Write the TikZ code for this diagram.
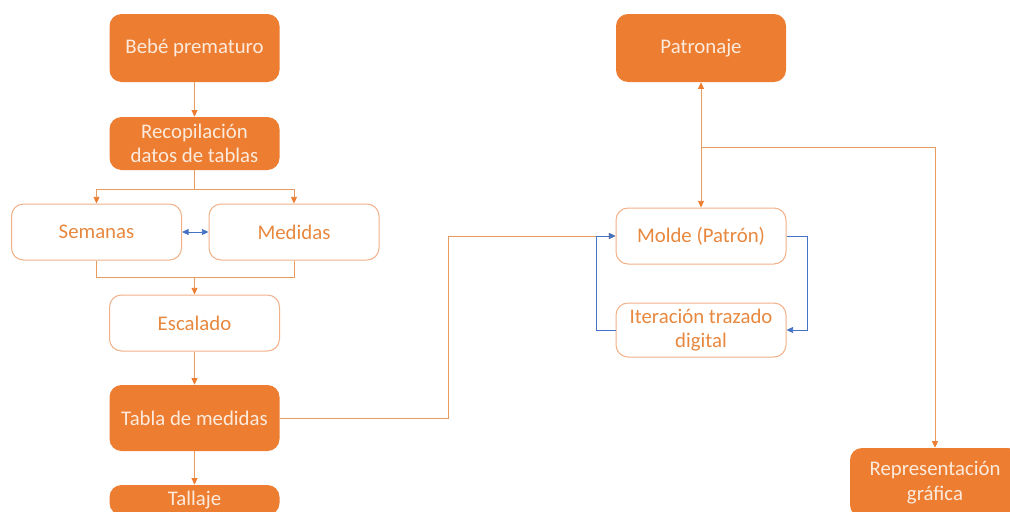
\documentclass[tikz,border=0pt]{standalone}
\usepackage{fontspec}
\setmainfont{Carlito}
\usetikzlibrary{arrows.meta}
\definecolor{orfill}{HTML}{ED7D31}
\definecolor{ortext}{HTML}{FCEBDD}
\definecolor{orline}{HTML}{E99A5E}
\definecolor{orborder}{HTML}{F0B088}
\definecolor{orsoft}{HTML}{E8883F}
\definecolor{bl}{HTML}{4472C4}
\tikzset{
  filled/.style={rounded corners=9pt, fill=orfill, draw=none, text=ortext,
    minimum width=127.5pt, minimum height=51pt, align=center, inner sep=0pt,
    font=\fontsize{15.6}{18.5}\selectfont},
  outlined/.style={rounded corners=9pt, fill=white, draw=orborder, line width=0.75pt, text=orsoft,
    minimum width=127.5pt, minimum height=42pt, align=center, inner sep=0pt,
    font=\fontsize{15.6}{18.5}\selectfont},
  conn/.style={draw=orline, line width=0.65pt},
  tip/.style={Triangle[length=5pt,width=4.5pt,color=orfill]},
  arr/.style={conn, -{Triangle[length=5pt,width=4.5pt,color=orfill]}},
  darr/.style={conn, {Triangle[length=5pt,width=4.5pt,color=orfill]}-{Triangle[length=5pt,width=4.5pt,color=orfill]}},
  barr/.style={draw=bl, line width=0.65pt, -{Triangle[length=5pt,width=4.5pt]}},
  bdarr/.style={draw=bl, line width=0.65pt, {Triangle[length=5pt,width=4.5pt]}-{Triangle[length=5pt,width=4.5pt]}},
}
\begin{document}
\begin{tikzpicture}[x=0.75pt, y=-0.75pt]
\useasboundingbox (0,0) rectangle (1010,511);
\clip (0,0) rectangle (1010,511);
% nodes
\node[filled] (bebe) at (194.5,48) {Bebé prematuro};
\node[filled, minimum height=39.75pt] (recop) at (194.5,143.5) {Recopilación\\datos de tablas};
\node[outlined] (sem) at (96.5,232) {Semanas};
\node[outlined] (med) at (294,232) {Medidas};
\node[outlined] (esc) at (194.5,323) {Escalado};
\node[filled, minimum height=49.5pt] (tabla) at (194.5,418) {Tabla de medidas};
\node[filled, minimum height=22.5pt] (talla) at (194.5,500) {Tallaje};
\node[filled] (patr) at (701,48) {Patronaje};
\node[outlined] (molde) at (701,236) {Molde (Patrón)};
\node[outlined, minimum height=40.5pt] (iter) at (701,330) {Iteración trazado\\digital};
\node[filled, minimum height=51.75pt] (rep) at (935,482.5) {Representación\\gráfica};
% coordinates
\coordinate (split) at (194.5,189);
\coordinate (join) at (194.5,277);
\coordinate (tb) at (448,418);
\coordinate (pm) at (701,147);
% connectors
\draw[arr] (bebe) -- (recop);
\draw[conn] (recop.south) -- (split);
\draw[arr] (split) -| (sem.north);
\draw[arr] (split) -| (med.north);
\draw[bdarr] (sem) -- (med);
\draw[conn] (sem.south) |- (join);
\draw[conn] (med.south) |- (join);
\draw[arr] (join) -- (esc.north);
\draw[arr] (esc) -- (tabla);
\draw[arr] (tabla) -- (talla);
\draw[arr] (tabla.east) -- (tb) |- (molde.west);
\draw[darr] (patr.south) -- (molde.north);
\draw[arr] (pm) -| (rep.north);
\draw[barr] (molde.east) -- ++(21,0) |- (iter.east);
\draw[barr] (iter.west) -- ++(-19,0) |- (molde.west);
\end{tikzpicture}
\end{document}
